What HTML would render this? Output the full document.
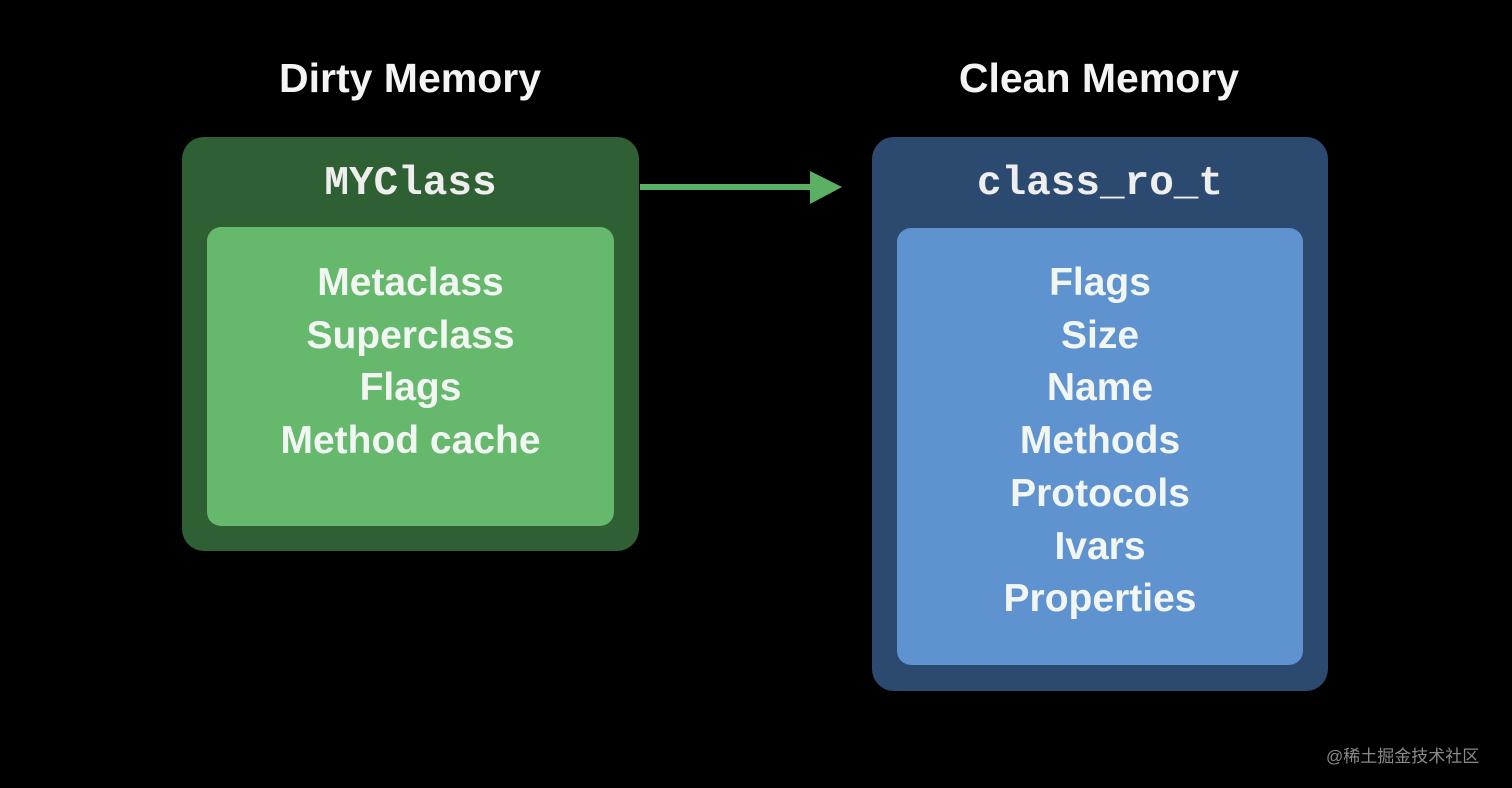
<!DOCTYPE html>
<html><head><style>
body{margin:0;width:1512px;height:788px;background:#000;position:relative;overflow:hidden;font-family:"Liberation Sans",sans-serif;color:#f4f4f4}
.t{position:absolute;font-weight:bold;font-size:41px;text-align:center;width:500px}
.box{position:absolute;border-radius:22px}
.mono{position:absolute;font-family:"Liberation Mono",monospace;font-size:41px;text-align:center;color:#eee;font-weight:bold}
.list{position:absolute;text-align:center;font-size:39px;font-weight:bold;line-height:52.7px;color:#f2f6f2}
</style></head><body>
<div class="t" style="left:160px;top:55px">Dirty Memory</div>
<div class="t" style="left:849px;top:55px">Clean Memory</div>
<div class="box" style="left:182px;top:137px;width:457px;height:414px;background:#2f6034"></div>
<div class="box" style="left:207px;top:227px;width:407px;height:299px;background:#66b86d;border-radius:14px"></div>
<div class="mono" style="left:182px;top:161px;width:457px">MYClass</div>
<div class="list" style="left:207px;top:257px;width:407px">Metaclass<br>Superclass<br>Flags<br>Method cache</div>
<div class="box" style="left:872px;top:137px;width:456px;height:554px;background:#2c4a70"></div>
<div class="box" style="left:897px;top:228px;width:406px;height:437px;background:#5f93cf;border-radius:14px"></div>
<div class="mono" style="left:872px;top:161px;width:456px">class_ro_t</div>
<div class="list" style="left:897px;top:257px;width:406px">Flags<br>Size<br>Name<br>Methods<br>Protocols<br>Ivars<br>Properties</div>
<svg style="position:absolute;left:0;top:0" width="1512" height="788">
<line x1="640" y1="187" x2="812" y2="187" stroke="#5cb063" stroke-width="6"/>
<polygon points="810,171 842,187 810,204" fill="#5cb063"/>
</svg>
<div style="position:absolute;left:1326px;top:742px;font-size:17px;color:#8a8a8a;font-family:'Liberation Sans','Noto Sans CJK SC',sans-serif">@稀土掘金技术社区</div>
</body></html>
